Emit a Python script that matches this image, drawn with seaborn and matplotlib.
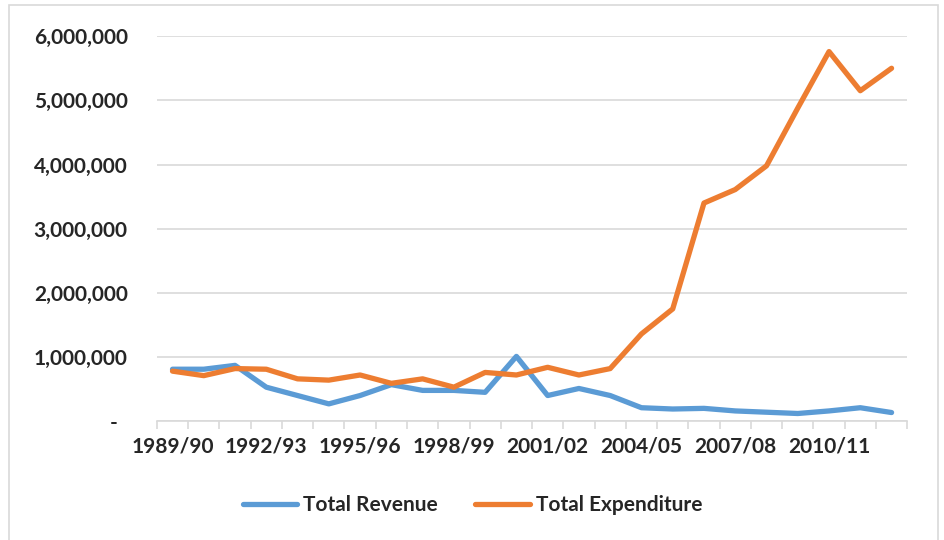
import pandas as pd
import matplotlib.pyplot as plt
import seaborn as sns
from matplotlib.ticker import FuncFormatter, FixedLocator
from matplotlib.patches import Rectangle

# =====================================
# DATA
# =====================================

years = [
    "1989/90", "1990/91", "1991/92", "1992/93", "1993/94", "1994/95",
    "1995/96", "1996/97", "1997/98", "1998/99", "1999/00", "2000/01",
    "2001/02", "2002/03", "2003/04", "2004/05", "2005/06", "2006/07",
    "2007/08", "2008/09", "2009/10", "2010/11", "2011/12", "2012/13",
]

total_revenue = [
    810000, 810000, 870000, 530000, 400000, 270000,
    400000, 570000, 480000, 480000, 450000, 1010000,
    400000, 510000, 400000, 210000, 190000, 200000,
    160000, 140000, 120000, 160000, 210000, 135000,
]

total_expenditure = [
    780000, 710000, 820000, 810000, 660000, 640000,
    720000, 590000, 660000, 530000, 760000, 720000,
    840000, 720000, 820000, 1360000, 1750000, 3400000,
    3610000, 3980000, 4880000, 5760000, 5150000, 5500000,
]

series_names = ["Total Revenue", "Total Expenditure"]

# =====================================
# LONG FORMAT
# =====================================

df = pd.DataFrame({
    "idx": list(range(len(years))) * 2,
    "value": total_revenue + total_expenditure,
    "series": [series_names[0]] * len(years) + [series_names[1]] * len(years),
})

# =====================================
# STYLE
# =====================================

sns.set_theme(style="white")
plt.rcParams["font.family"] = ["Lato", "DejaVu Sans"]
plt.rcParams["font.weight"] = "bold"

fig = plt.figure(figsize=(9.45, 5.4), dpi=100)
ax = fig.add_axes([0.166, 0.22, 0.794, 0.713])

sns.lineplot(
    data=df,
    x="idx",
    y="value",
    hue="series",
    palette=["#5B9BD5", "#ED7D31"],
    linewidth=3.8,
    ax=ax,
    legend=False,
)

# =====================================
# AXES
# =====================================

ax.set_xlim(-0.5, len(years) - 0.5)
ax.set_ylim(0, 6000000)
ax.set_yticks(range(0, 6000001, 1000000))
ax.yaxis.set_major_formatter(
    FuncFormatter(lambda v, p: f"{v:,.0f}" if v else "-  ")
)
ax.grid(axis="y", color="#D9D9D9", linewidth=1.2)
ax.set_axisbelow(True)

label_idx = list(range(0, len(years), 3))
ax.set_xticks(label_idx)
ax.set_xticklabels([years[i] for i in label_idx])
ax.xaxis.set_minor_locator(
    FixedLocator([i - 0.5 for i in range(len(years) + 1)])
)
ax.tick_params(axis="x", which="major", length=0, pad=11, labelsize=15)
ax.tick_params(axis="x", which="minor", length=6, width=1.2,
               color="#D9D9D9", direction="out", bottom=True)
ax.tick_params(axis="y", length=0, pad=21, labelsize=15)

for side in ["top", "right", "left"]:
    ax.spines[side].set_visible(False)
ax.spines["bottom"].set_color("#D9D9D9")
ax.spines["bottom"].set_linewidth(1.2)

ax.set_xlabel("")
ax.set_ylabel("")

# =====================================
# LEGEND
# =====================================

handles = [
    plt.Line2D([], [], color="#5B9BD5", linewidth=3.8, solid_capstyle="round"),
    plt.Line2D([], [], color="#ED7D31", linewidth=3.8, solid_capstyle="round"),
]
fig.legend(
    handles,
    series_names,
    loc="center",
    bbox_to_anchor=(0.5, 0.064),
    ncol=2,
    frameon=False,
    fontsize=15,
    handlelength=2.6,
    handletextpad=0.3,
    columnspacing=1.8,
)

# outer chart border
fig.patches.append(
    Rectangle((0.009, -0.01), 0.984, 1.0, transform=fig.transFigure,
              fill=False, edgecolor="#D9D9D9", linewidth=1.2)
)

fig.savefig("out.png", dpi=100)
